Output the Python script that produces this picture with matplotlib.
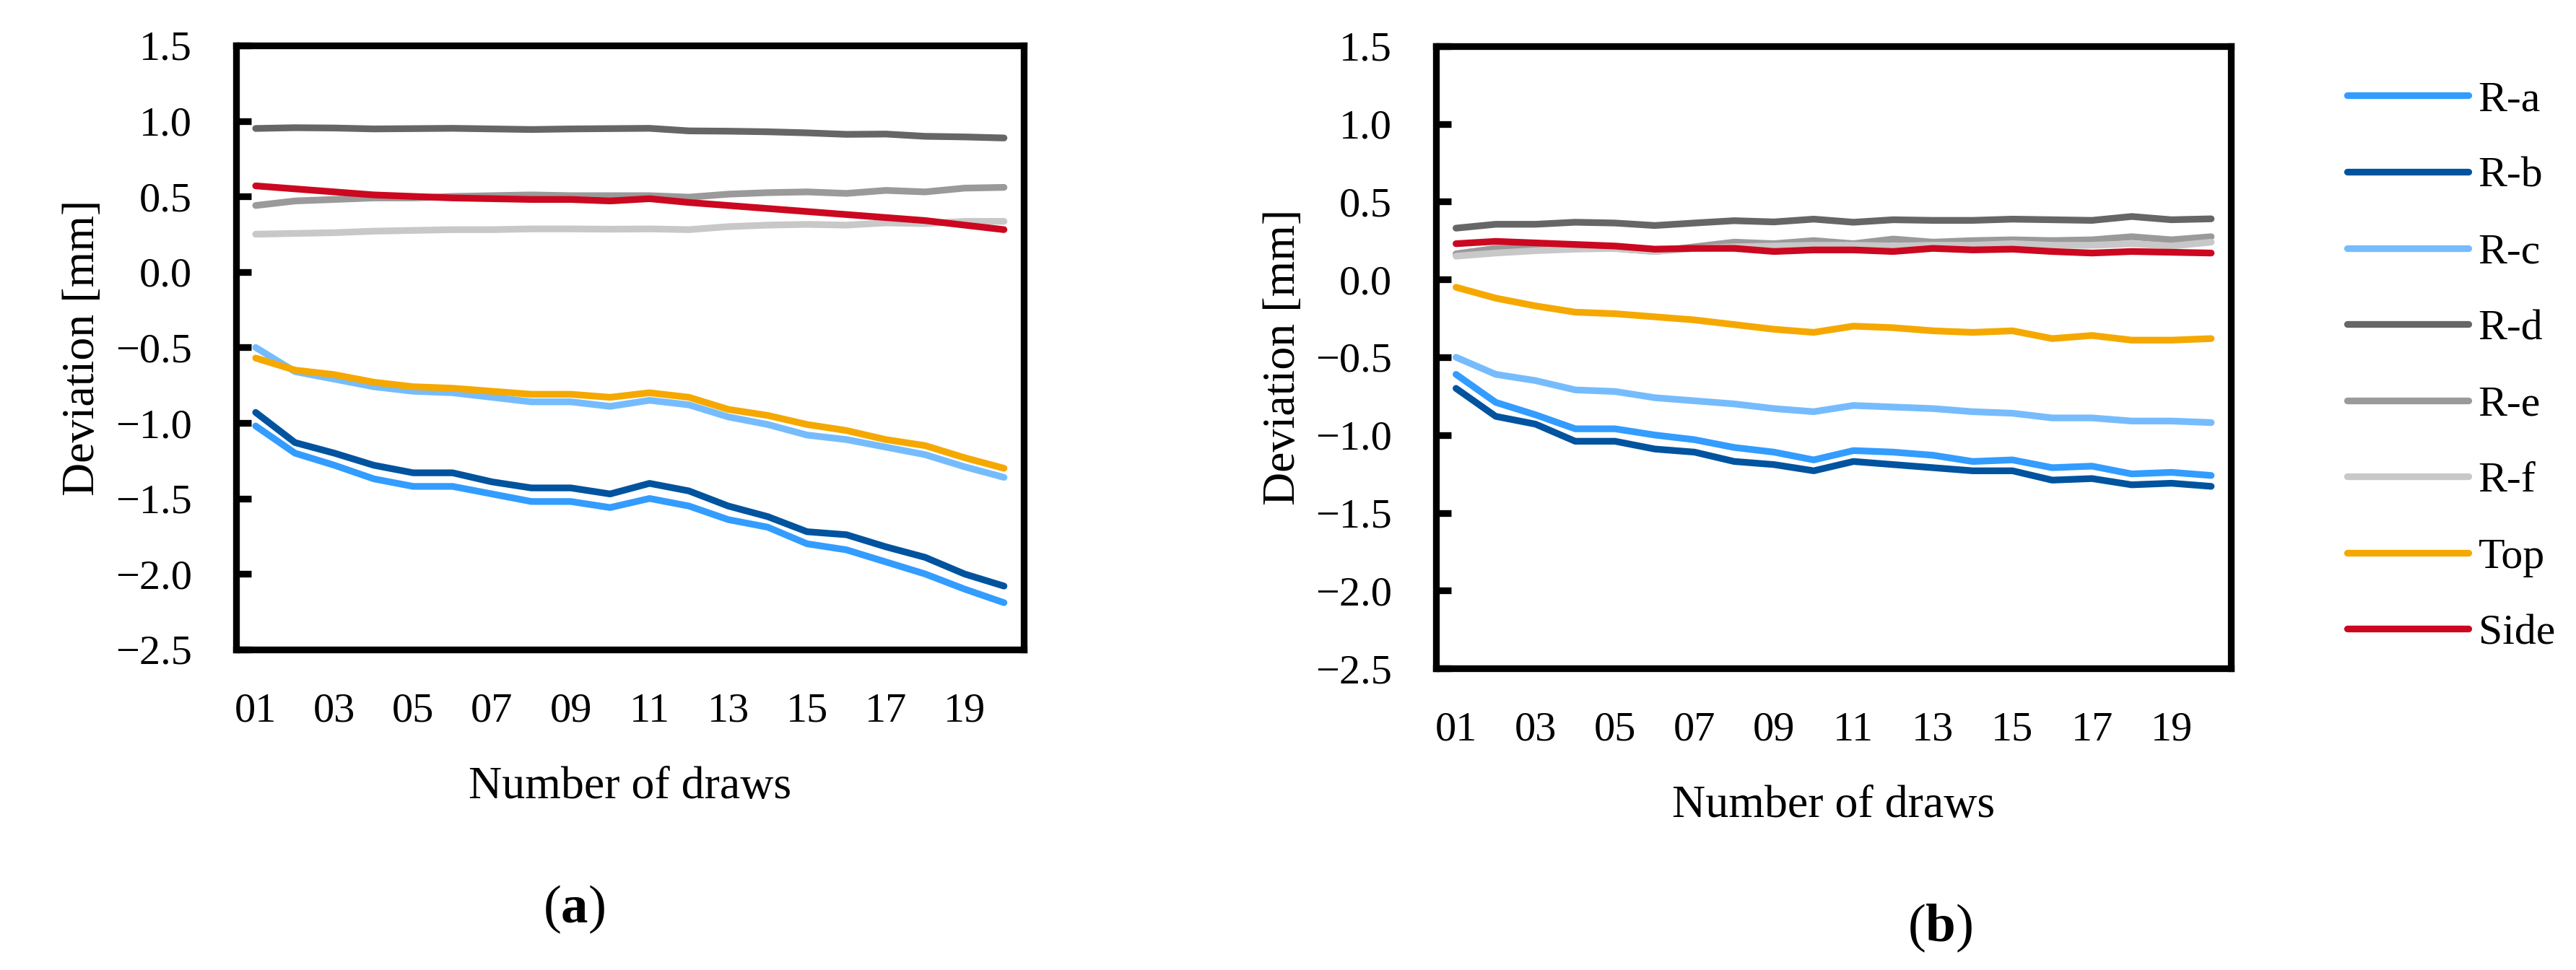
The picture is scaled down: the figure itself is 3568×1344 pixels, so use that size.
import matplotlib
matplotlib.use("Agg")
import matplotlib.pyplot as plt

plt.rcParams['font.family'] = ['Liberation Serif', 'DejaVu Serif']
plt.rcParams['mathtext.fontset'] = 'custom'
plt.rcParams['mathtext.rm'] = 'Liberation Serif'
plt.rcParams['mathtext.bf'] = 'Liberation Serif:bold'

draws = list(range(1, 21))
tick_draws = [1, 3, 5, 7, 9, 11, 13, 15, 17, 19]
tick_labels = ["01", "03", "05", "07", "09", "11", "13", "15", "17", "19"]
series_names = ["R-a", "R-b", "R-c", "R-d", "R-e", "R-f", "Top", "Side"]
colors = ["#339CFF", "#00539E", "#76BCFD", "#666666", "#9A9A9A", "#C8C8C8", "#F5A800", "#CC0720"]

# (a)
ra_a = [-1.02, -1.20, -1.28, -1.37, -1.42, -1.42, -1.47, -1.52, -1.52, -1.56,
        -1.50, -1.55, -1.64, -1.69, -1.80, -1.84, -1.92, -2.00, -2.10, -2.19]
rb_a = [-0.93, -1.13, -1.20, -1.28, -1.33, -1.33, -1.39, -1.43, -1.43, -1.47,
        -1.40, -1.45, -1.55, -1.62, -1.72, -1.74, -1.82, -1.89, -2.00, -2.08]
rc_a = [-0.50, -0.66, -0.71, -0.76, -0.79, -0.80, -0.83, -0.86, -0.86, -0.89,
        -0.85, -0.88, -0.96, -1.01, -1.08, -1.11, -1.16, -1.21, -1.29, -1.36]
rd_a = [0.950, 0.955, 0.953, 0.947, 0.949, 0.951, 0.947, 0.943, 0.947, 0.949,
        0.951, 0.934, 0.932, 0.928, 0.921, 0.911, 0.913, 0.898, 0.894, 0.887]
re_a = [0.44, 0.47, 0.48, 0.49, 0.49, 0.50, 0.505, 0.51, 0.505, 0.505,
        0.505, 0.495, 0.515, 0.525, 0.53, 0.52, 0.54, 0.53, 0.555, 0.56]
rf_a = [0.25, 0.255, 0.26, 0.27, 0.275, 0.28, 0.28, 0.285, 0.285, 0.283,
        0.285, 0.28, 0.30, 0.31, 0.315, 0.31, 0.325, 0.32, 0.335, 0.335]
top_a = [-0.57, -0.65, -0.68, -0.73, -0.76, -0.77, -0.79, -0.81, -0.81, -0.83,
         -0.80, -0.83, -0.91, -0.95, -1.01, -1.05, -1.11, -1.15, -1.23, -1.30]
side_a = [0.57, 0.55, 0.53, 0.51, 0.50, 0.49, 0.485, 0.48, 0.48, 0.47,
          0.485, 0.46, 0.44, 0.42, 0.40, 0.38, 0.36, 0.34, 0.31, 0.28]

# (b)
ra_b = [-0.61, -0.79, -0.87, -0.96, -0.96, -1.00, -1.03, -1.08, -1.11, -1.16,
        -1.10, -1.11, -1.13, -1.17, -1.16, -1.21, -1.20, -1.25, -1.24, -1.26]
rb_b = [-0.70, -0.88, -0.93, -1.04, -1.04, -1.09, -1.11, -1.17, -1.19, -1.23,
        -1.17, -1.19, -1.21, -1.23, -1.23, -1.29, -1.28, -1.32, -1.31, -1.33]
rc_b = [-0.50, -0.61, -0.65, -0.71, -0.72, -0.76, -0.78, -0.80, -0.83, -0.85,
        -0.81, -0.82, -0.83, -0.85, -0.86, -0.89, -0.89, -0.91, -0.91, -0.92]
rd_b = [0.33, 0.355, 0.355, 0.368, 0.363, 0.347, 0.363, 0.378, 0.370, 0.388,
        0.368, 0.384, 0.380, 0.380, 0.388, 0.384, 0.380, 0.405, 0.384, 0.390]
re_b = [0.165, 0.20, 0.20, 0.21, 0.20, 0.18, 0.21, 0.24, 0.23, 0.25,
        0.23, 0.26, 0.24, 0.25, 0.255, 0.25, 0.255, 0.275, 0.255, 0.275]
rf_b = [0.15, 0.17, 0.185, 0.195, 0.20, 0.18, 0.20, 0.21, 0.215, 0.22,
        0.22, 0.215, 0.22, 0.22, 0.23, 0.22, 0.22, 0.23, 0.215, 0.24]
top_b = [-0.05, -0.12, -0.17, -0.21, -0.22, -0.24, -0.26, -0.29, -0.32, -0.34,
         -0.30, -0.31, -0.33, -0.34, -0.33, -0.38, -0.36, -0.39, -0.39, -0.38]
side_b = [0.23, 0.245, 0.235, 0.225, 0.215, 0.195, 0.20, 0.20, 0.18, 0.19,
          0.19, 0.18, 0.20, 0.19, 0.195, 0.18, 0.17, 0.18, 0.175, 0.17]

yticks = [-2.5, -2.0, -1.5, -1.0, -0.5, 0.0, 0.5, 1.0, 1.5]

TICK_FS = 42
LABEL_FS = 46
LEG_FS = 43
LW = 6.7
SPINE = 6.7

fig = plt.figure(figsize=(35.68, 13.44), dpi=100)
ax1 = fig.add_axes([0.0916, 0.3304, 0.3058, 0.6228])
ax2 = fig.add_axes([0.5575, 0.3110, 0.3086, 0.6414])


def draw_panel(ax, data):
    for vals, name, c in zip(data, series_names, colors):
        ax.plot(draws, vals, color=c, lw=LW, label=name,
                solid_capstyle='round', solid_joinstyle='round')
    ax.set_xlim(0.5, 20.5)
    ax.set_ylim(-2.5, 1.5)
    ax.set_yticks(yticks)
    ax.set_yticklabels(["%.1f" % v if v >= 0 else "\u2212%.1f" % -v for v in yticks])
    ax.set_xticks(tick_draws)
    ax.set_xticklabels(tick_labels)
    for s in ax.spines.values():
        s.set_linewidth(SPINE)
    ax.tick_params(axis='y', direction='in', length=15, width=SPINE,
                   labelsize=TICK_FS, pad=44)
    ax.tick_params(axis='x', length=0, labelsize=TICK_FS, pad=43)
    ax.set_ylabel("Deviation [mm]", fontsize=LABEL_FS, labelpad=11)
    ax.set_xlabel("Number of draws", fontsize=LABEL_FS, labelpad=36)


draw_panel(ax1, [ra_a, rb_a, rc_a, rd_a, re_a, rf_a, top_a, side_a])
draw_panel(ax2, [ra_b, rb_b, rc_b, rd_b, re_b, rf_b, top_b, side_b])

ax2.legend(loc='upper left', bbox_to_anchor=(0.9112, 0.917),
           bbox_transform=fig.transFigure, frameon=False, fontsize=LEG_FS,
           handlelength=2.81, handletextpad=0.23, labelspacing=0.85,
           borderpad=0, borderaxespad=0)

fig.text(795 / 3568, 1 - 1260 / 1344, r'$\mathrm{(}\mathbf{a}\mathrm{)}$',
         fontsize=54, ha='center', va='center')
fig.text(2687 / 3568, 1 - 1286 / 1344, r'$\mathrm{(}\mathbf{b}\mathrm{)}$',
         fontsize=54, ha='center', va='center')

fig.savefig("out.png", dpi=100)
